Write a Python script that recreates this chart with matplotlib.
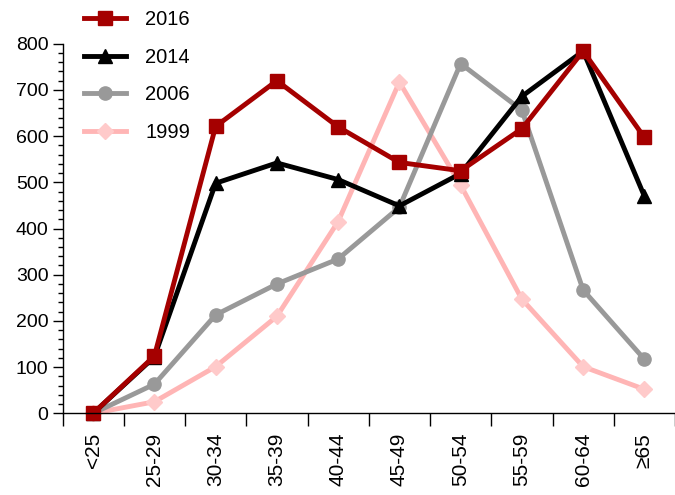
import matplotlib
matplotlib.use("Agg")
import matplotlib.pyplot as plt
import numpy as np
from matplotlib.ticker import MultipleLocator, FixedLocator

categories = ["<25", "25-29", "30-34", "35-39", "40-44", "45-49",
              "50-54", "55-59", "60-64", "≥65"]
y2016 = [0, 124, 621, 720, 620, 543, 525, 616, 784, 597]
y2014 = [0, 122, 498, 542, 506, 449, 519, 686, 784, 470]
y2006 = [0, 63, 213, 280, 334, 446, 757, 656, 267, 117]
y1999 = [0, 25, 101, 210, 415, 717, 494, 247, 101, 52]

plt.rcParams['font.family'] = ['Liberation Sans', 'DejaVu Sans']

fig = plt.figure(figsize=(6.75, 4.95), dpi=100)
ax = fig.add_axes([62.5/675, 0.165, 1 - 62.5/675, 0.9117 - 0.165])

x = np.arange(len(categories))
lw = 3.5
series = [
    ("1999", y1999, "#FFB5B5", "#FFCACA", "D", 8.5),
    ("2006", y2006, "#999999", "#999999", "o", 9.5),
    ("2014", y2014, "#000000", "#000000", "^", 10),
    ("2016", y2016, "#A50000", "#A50000", "s", 9.5),
]
handles = {}
for name, vals, lc, mc, mk, ms in series:
    h, = ax.plot(x, vals, color=lc, lw=lw, marker=mk, markersize=ms,
                 markerfacecolor=mc, markeredgecolor=mc, clip_on=False,
                 label=name)
    handles[name] = h

ax.set_xlim(-0.5, 9.5)
ax.set_ylim(0, 800)
ax.spines['top'].set_visible(False)
ax.spines['right'].set_visible(False)
ax.spines['left'].set_linewidth(1.0)
ax.spines['bottom'].set_linewidth(1.0)

ax.set_xticks(x)
ax.set_xticklabels(categories, rotation=90, fontsize=15)
ax.xaxis.set_minor_locator(FixedLocator(np.arange(-0.5, 10, 1)))
ax.tick_params(axis='x', which='major', length=0, pad=14)
ax.tick_params(axis='x', which='minor', length=9.5, width=1.0, direction='out')

ax.yaxis.set_major_locator(MultipleLocator(100))
ax.yaxis.set_minor_locator(MultipleLocator(20))
ax.tick_params(axis='y', which='major', length=7, width=1.0, pad=3, labelsize=14)
ax.tick_params(axis='y', which='minor', length=3.6, width=1.0)

order = ["2016", "2014", "2006", "1999"]
leg = fig.legend([handles[n] for n in order], order, loc='upper left',
                 bbox_to_anchor=(84/675, 1 - 10/495), frameon=False,
                 fontsize=14.5, handlelength=2.1, handletextpad=0.95,
                 labelspacing=0.93, borderpad=0, borderaxespad=0)

fig.savefig("out.png", dpi=100)
